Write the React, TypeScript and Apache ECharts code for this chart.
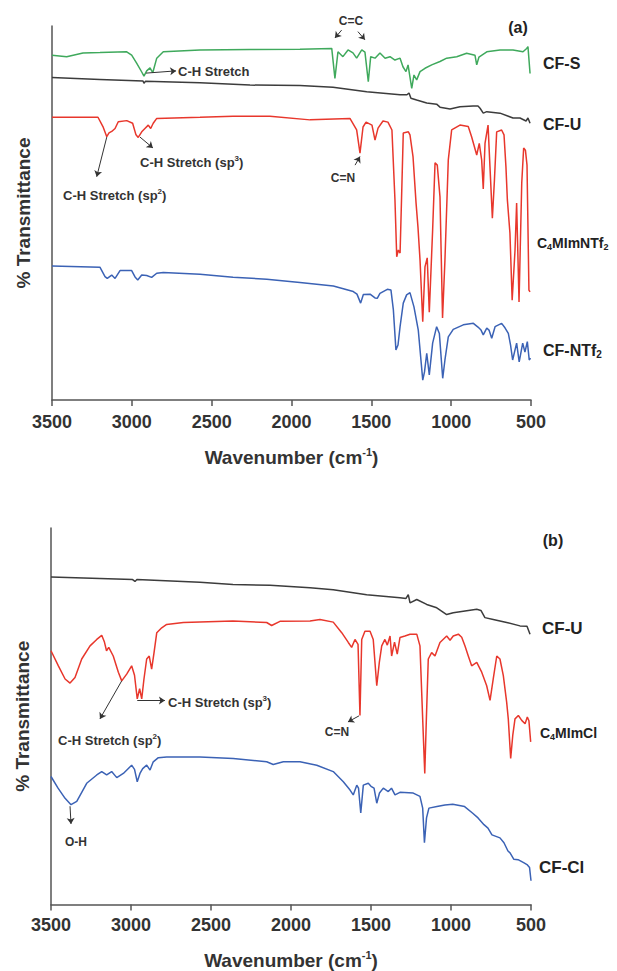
import React, { useEffect, useRef } from "react";
import * as echarts from "echarts";

// ---------- axis ticks (wavenumber, cm-1) ----------
const X_TICKS = [3500, 3000, 2500, 2000, 1500, 1000, 500];

// ---------- panel (a) series: [wavenumber, offset transmittance] ----------
const cfS_a: number[][] = [
  [3500, 92.2], [3408, 91.8], [3306, 92.8], [3200, 92.9], [3032, 93.1], [3001, 92.2], [2970, 90.1],
  [2938, 87.7], [2924, 86.6], [2907, 88.0], [2886, 88.8], [2869, 87.5], [2844, 91.4], [2803, 93.1],
  [2573, 93.6], [2260, 93.7], [1947, 93.8], [1748, 94.0], [1728, 86.0], [1709, 93.1], [1678, 91.8],
  [1646, 93.6], [1615, 92.8], [1592, 91.4], [1560, 93.6], [1540, 93.0], [1519, 85.1], [1504, 91.8],
  [1477, 91.4], [1446, 92.8], [1414, 91.4], [1383, 91.8], [1352, 90.9], [1320, 91.4], [1302, 89.1],
  [1283, 87.8], [1270, 89.6], [1247, 83.3], [1233, 86.9], [1216, 85.6], [1195, 87.8], [1164, 88.7],
  [1122, 89.6], [1070, 90.5], [1028, 91.4], [965, 91.8], [903, 92.7], [851, 92.2], [840, 89.6],
  [826, 91.7], [777, 93.1], [694, 93.6], [613, 93.6], [550, 93.1], [527, 94.0], [519, 94.5], [506, 87.3],
];

const cfU_a: number[][] = [
  [3500, 86.2], [3200, 85.7], [2930, 85.3], [2924, 84.7], [2915, 85.2], [2573, 84.8], [2260, 84.2],
  [1947, 84.1], [1740, 83.6], [1529, 82.4], [1320, 81.6], [1277, 81.6], [1264, 82.1], [1252, 80.7],
  [1216, 80.2], [1153, 79.4], [1091, 79.1], [1070, 78.3], [1007, 77.8], [945, 78.4], [863, 78.6],
  [832, 78.6], [819, 78.0], [799, 76.7], [777, 77.1], [694, 76.7], [613, 75.4], [569, 75.4],
  [531, 74.6], [519, 75.4], [506, 74.0],
];

const c4NTf2_a: number[][] = [
  [3500, 75.6], [3212, 75.6], [3181, 73.1], [3157, 70.4], [3143, 71.4], [3126, 71.8], [3105, 72.6],
  [3085, 74.4], [3032, 74.7], [2995, 74.0], [2974, 70.9], [2960, 70.2], [2938, 71.7], [2918, 72.6],
  [2897, 73.5], [2882, 72.6], [2866, 74.0], [2844, 75.3], [2573, 75.6], [2366, 75.9], [2135, 75.9],
  [1884, 74.9], [1634, 75.3], [1592, 72.2], [1571, 66.0], [1552, 73.0], [1533, 74.3], [1496, 73.5],
  [1477, 69.5], [1458, 72.7], [1427, 74.6], [1396, 74.3], [1371, 72.2], [1352, 53.5], [1341, 38.3],
  [1331, 40.1], [1320, 39.3], [1311, 53.5], [1300, 71.4], [1268, 71.7], [1258, 70.9], [1239, 65.1],
  [1220, 52.7], [1208, 46.3], [1195, 37.4], [1178, 20.9], [1164, 35.6], [1150, 38.0], [1137, 23.5],
  [1116, 45.5], [1101, 63.4], [1087, 62.8], [1070, 54.3], [1054, 21.9], [1039, 37.4], [1018, 64.2],
  [997, 72.2], [945, 73.5], [893, 73.1], [872, 70.4], [840, 65.5], [824, 68.6], [809, 64.2],
  [799, 56.4], [788, 68.6], [769, 73.5], [757, 62.4], [742, 48.6], [729, 58.8], [715, 71.7],
  [684, 72.2], [669, 70.9], [657, 62.4], [648, 53.5], [632, 44.7], [618, 26.7], [600, 40.1],
  [590, 52.7], [575, 26.2], [558, 58.0], [546, 67.4], [535, 66.8], [525, 62.8], [513, 29.4], [506, 28.9],
];

const cfNTf2_a: number[][] = [
  [3500, 35.8], [3200, 35.5], [3168, 33.0], [3154, 32.5], [3126, 33.4], [3105, 32.5], [3074, 34.6],
  [3001, 34.6], [2980, 32.9], [2963, 32.1], [2938, 33.4], [2907, 33.3], [2876, 32.8], [2844, 33.9],
  [2803, 34.1], [2573, 33.6], [2366, 32.8], [2155, 32.3], [1947, 31.4], [1738, 30.5], [1613, 29.0],
  [1590, 28.3], [1567, 25.9], [1550, 28.2], [1508, 28.3], [1477, 27.3], [1463, 27.2], [1446, 28.5],
  [1400, 29.6], [1377, 29.4], [1362, 24.1], [1346, 13.4], [1333, 14.7], [1320, 19.6], [1300, 25.9],
  [1279, 28.1], [1258, 28.7], [1233, 24.9], [1206, 18.7], [1178, 5.3], [1167, 7.5], [1153, 12.5],
  [1137, 6.7], [1116, 15.2], [1091, 19.6], [1074, 17.8], [1053, 5.8], [1039, 10.7], [1018, 16.9],
  [987, 18.9], [924, 20.1], [861, 20.5], [832, 19.5], [813, 18.7], [799, 17.4], [777, 19.2],
  [763, 18.7], [746, 16.5], [725, 19.6], [684, 20.5], [663, 19.3], [642, 17.8], [628, 14.7],
  [615, 10.7], [600, 13.4], [590, 15.2], [574, 10.2], [552, 15.2], [538, 12.8], [523, 15.6],
  [511, 10.7], [503, 11.2],
];

// ---------- panel (b) series ----------
const cfU_b: number[][] = [
  [3500, 87.0], [2990, 86.3], [2975, 85.8], [2963, 86.3], [2569, 85.6], [2363, 85.0], [2131, 84.8],
  [1881, 84.1], [1736, 83.6], [1527, 82.3], [1319, 81.5], [1281, 81.3], [1267, 82.3], [1256, 80.1],
  [1214, 81.0], [1152, 79.7], [1089, 78.8], [1027, 77.0], [986, 77.5], [839, 78.4], [813, 78.1],
  [788, 76.2], [736, 75.7], [652, 74.9], [569, 74.0], [525, 73.9], [506, 71.8],
];

const c4Cl_b: number[][] = [
  [3500, 67.4], [3454, 63.4], [3412, 59.9], [3381, 58.8], [3350, 60.3], [3308, 65.2], [3256, 68.7],
  [3214, 70.4], [3183, 71.5], [3166, 69.7], [3153, 67.4], [3139, 68.3], [3111, 66.0], [3079, 61.7],
  [3058, 59.4], [3027, 61.2], [2996, 63.4], [2978, 60.9], [2961, 54.6], [2946, 57.3], [2933, 54.6],
  [2919, 59.9], [2902, 65.2], [2886, 66.0], [2871, 62.5], [2856, 66.9], [2839, 72.2], [2808, 73.5],
  [2777, 74.4], [2673, 74.9], [2363, 75.3], [2152, 74.9], [2121, 74.1], [2069, 75.2], [1881, 75.3],
  [1819, 75.7], [1736, 75.0], [1683, 72.2], [1642, 69.6], [1621, 68.3], [1600, 70.4], [1581, 69.1],
  [1569, 50.2], [1558, 70.4], [1538, 72.6], [1506, 72.6], [1486, 70.4], [1464, 58.1], [1448, 64.3],
  [1433, 68.7], [1413, 70.4], [1398, 68.9], [1381, 71.3], [1371, 66.0], [1353, 69.7], [1336, 66.5],
  [1319, 70.9], [1288, 71.3], [1256, 71.8], [1214, 71.8], [1194, 68.7], [1177, 49.3], [1164, 34.8],
  [1154, 49.3], [1142, 65.2], [1121, 66.9], [1100, 66.0], [1069, 69.6], [1027, 71.3], [1006, 70.2],
  [986, 71.3], [954, 71.8], [933, 71.0], [913, 68.7], [892, 66.0], [871, 63.4], [839, 64.3],
  [808, 61.7], [777, 58.1], [756, 54.2], [736, 59.9], [714, 66.0], [694, 65.2], [673, 60.8],
  [652, 53.7], [642, 49.3], [627, 38.8], [614, 44.9], [600, 49.3], [579, 50.2], [558, 48.9],
  [537, 48.0], [523, 49.8], [513, 48.8], [502, 43.2],
];

const cfCl_b: number[][] = [
  [3500, 34.0], [3456, 30.9], [3412, 28.2], [3375, 26.5], [3339, 27.4], [3277, 32.2], [3214, 34.4],
  [3183, 35.3], [3152, 34.4], [3121, 35.3], [3089, 33.7], [3048, 34.8], [2996, 37.0], [2978, 35.9],
  [2961, 32.6], [2944, 34.8], [2927, 36.1], [2902, 37.0], [2881, 35.7], [2861, 37.9], [2829, 39.0],
  [2777, 39.2], [2569, 39.2], [2361, 38.8], [2152, 37.9], [2111, 37.2], [2048, 37.9], [1944, 37.9],
  [1839, 37.0], [1736, 35.3], [1673, 32.6], [1631, 30.4], [1611, 29.1], [1589, 31.7], [1578, 30.9],
  [1564, 24.3], [1548, 31.7], [1517, 32.2], [1500, 31.4], [1481, 30.9], [1464, 26.9], [1447, 29.6],
  [1423, 30.9], [1392, 30.0], [1372, 30.9], [1350, 29.1], [1319, 29.8], [1236, 29.6], [1194, 28.7],
  [1177, 25.6], [1166, 16.4], [1153, 23.0], [1138, 25.6], [1088, 26.0], [1038, 26.4], [989, 26.6],
  [915, 26.0], [866, 24.3], [831, 23.0], [794, 21.2], [769, 20.3], [744, 18.5], [694, 17.7],
  [669, 16.4], [644, 14.2], [631, 13.7], [607, 12.0], [581, 11.9], [546, 11.1], [525, 10.6],
  [509, 9.8], [500, 6.3],
];

// ---------- annotation arrows: [from, to] in data coords ----------
const ARROWS_A_GREEN = [
  [[2911, 87.4], [2723, 88.0]],
  [[1686, 98.9], [1728, 96.8]],
  [[1584, 98.5], [1540, 96.3]],
];
const ARROWS_A_RED = [
  [[2949, 70.3], [2868, 67.4]],
  [[3157, 70.3], [3220, 59.7]],
  [[1602, 62.8], [1571, 65.1]],
];
const ARROWS_B_RED = [
  [[2961, 54.2], [2788, 54.2]],
  [[3058, 59.4], [3194, 49.3]],
  [[1575, 50.1], [1644, 48.5]],
];
const ARROWS_B_BLUE = [[[3381, 26.1], [3375, 21.4]]];

const FONT = '"Liberation Sans", Arial, Helvetica, sans-serif';
const GREEN = "#3fa95c";
const BLACK = "#3c3c3c";
const RED = "#e8372c";
const BLUE = "#3b62b5";
const AXIS = "#555555";

const richStyles = (size: number, color: string) => ({
  n: { fontSize: size, fontWeight: "bold", fontFamily: FONT, color, lineHeight: size + 3 },
  sub: { fontSize: Math.round(size * 0.62), fontWeight: "bold", fontFamily: FONT, color, lineHeight: Math.round(size * 0.62) + 1, verticalAlign: "bottom" },
  sup: { fontSize: Math.round(size * 0.62), fontWeight: "bold", fontFamily: FONT, color, lineHeight: Math.round(size * 0.62) + 1, verticalAlign: "top" },
});

const txt = (x: number, y: number, text: string, size: number, color: string, align = "left") => ({
  type: "text",
  x,
  y,
  silent: true,
  style: {
    text,
    fill: color,
    align,
    verticalAlign: "middle",
    textAlign: align,
    textVerticalAlign: "middle",
    rich: richStyles(size, color),
  },
});

const markArrows = (arr: number[][][]) => ({
  silent: true,
  symbol: ["none", "arrow"],
  symbolSize: 6,
  label: { show: false },
  lineStyle: { color: "#333", width: 1, type: "solid" },
  emphasis: { disabled: true },
  data: arr.map(([a, b]) => [{ coord: a }, { coord: b }]),
});

const xAxisFor = (gridIndex: number, labelMargin: number, nameGap: number) => ({
  type: "value",
  gridIndex,
  inverse: true,
  min: X_TICKS[X_TICKS.length - 1],
  max: X_TICKS[0],
  interval: X_TICKS[0] - X_TICKS[1],
  axisLine: { show: true, onZero: false, lineStyle: { color: AXIS, width: 1.5 } },
  axisTick: { show: true, inside: false, length: 6, lineStyle: { color: AXIS, width: 1.5 } },
  splitLine: { show: false },
  axisLabel: {
    show: true,
    margin: labelMargin,
    fontSize: 18,
    fontWeight: "bold",
    color: "#333",
    fontFamily: FONT,
    showMinLabel: true,
    showMaxLabel: true,
    formatter: (v: number) => String(v),
  },
  name: "{n|Wavenumber (cm}{sup|-1}{n|)}",
  nameLocation: "middle",
  nameGap,
  nameTextStyle: {
    rich: {
      n: { fontSize: 19, fontWeight: "bold", fontFamily: FONT, color: "#333", lineHeight: 22 },
      sup: { fontSize: 11, fontWeight: "bold", fontFamily: FONT, color: "#333", lineHeight: 12, verticalAlign: "top" },
    },
  },
});

const yAxisFor = (gridIndex: number) => ({
  type: "value",
  gridIndex,
  min: 0,
  max: 100,
  axisLine: { show: true, onZero: false, lineStyle: { color: AXIS, width: 1.5 } },
  axisTick: { show: false },
  axisLabel: { show: false },
  splitLine: { show: false },
  name: "% Transmittance",
  nameLocation: "middle",
  nameGap: 19,
  nameRotate: 90,
  nameTextStyle: { fontSize: 19, fontWeight: "bold", color: "#333", fontFamily: FONT },
});

const line = (data: number[][], color: string, idx: number, markLine?: any) => ({
  type: "line",
  xAxisIndex: idx,
  yAxisIndex: idx,
  data,
  showSymbol: false,
  symbol: "none",
  silent: true,
  lineStyle: { color, width: 1.5 },
  itemStyle: { color },
  ...(markLine ? { markLine } : {}),
});

export default function App() {
  const ref = useRef<HTMLDivElement>(null);
  useEffect(() => {
    if (!ref.current) return;
    const chart = echarts.init(ref.current, undefined, { renderer: "svg" });
    const LBL = "#222";
    const ANN = "#333";
    chart.setOption({
      animation: false,
      backgroundColor: "#ffffff",
      grid: [
        { left: 52, top: 26, width: 479, height: 374 },
        { left: 51, top: 528, width: 480, height: 379 },
      ],
      xAxis: [xAxisFor(0, 13, 46), xAxisFor(1, 11, 45)],
      yAxis: [yAxisFor(0), yAxisFor(1)],
      series: [
        line(cfS_a, GREEN, 0, markArrows(ARROWS_A_GREEN)),
        line(cfU_a, BLACK, 0),
        line(c4NTf2_a, RED, 0, markArrows(ARROWS_A_RED)),
        line(cfNTf2_a, BLUE, 0),
        line(cfU_b, BLACK, 1),
        line(c4Cl_b, RED, 1, markArrows(ARROWS_B_RED)),
        line(cfCl_b, BLUE, 1, markArrows(ARROWS_B_BLUE)),
      ],
      graphic: [
        // panel (a)
        txt(518, 27, "{n|(a)}", 16, LBL, "center"),
        txt(351, 21, "{n|C=C}", 12, ANN, "center"),
        txt(543, 63, "{n|CF-S}", 16, LBL),
        txt(543, 124, "{n|CF-U}", 16, LBL),
        txt(537, 243, "{n|C}{sub|4}{n|MImNTf}{sub|2}", 14, LBL),
        txt(543, 350, "{n|CF-NTf}{sub|2}", 16, LBL),
        txt(178, 71, "{n|C-H Stretch}", 13, ANN),
        txt(140, 162, "{n|C-H Stretch (sp}{sup|3}{n|)}", 13, ANN),
        txt(63, 195, "{n|C-H Stretch (sp}{sup|2}{n|)}", 13, ANN),
        txt(343, 178, "{n|C=N}", 12, ANN, "center"),
        // panel (b)
        txt(553, 540, "{n|(b)}", 16, LBL, "center"),
        txt(542, 628, "{n|CF-U}", 17, LBL),
        txt(540, 733, "{n|C}{sub|4}{n|MImCl}", 14, LBL),
        txt(539, 867, "{n|CF-Cl}", 17, LBL),
        txt(168, 702, "{n|C-H Stretch (sp}{sup|3}{n|)}", 13, ANN),
        txt(58, 740, "{n|C-H Stretch (sp}{sup|2}{n|)}", 13, ANN),
        txt(337, 732, "{n|C=N}", 12, ANN, "center"),
        txt(76, 842, "{n|O-H}", 12, ANN, "center"),
      ],
    });
    return () => chart.dispose();
  }, []);
  return (
    <div
      ref={ref}
      style={{ position: "absolute", left: 0, top: 0, width: 617, height: 971, background: "#fff" }}
    />
  );
}
